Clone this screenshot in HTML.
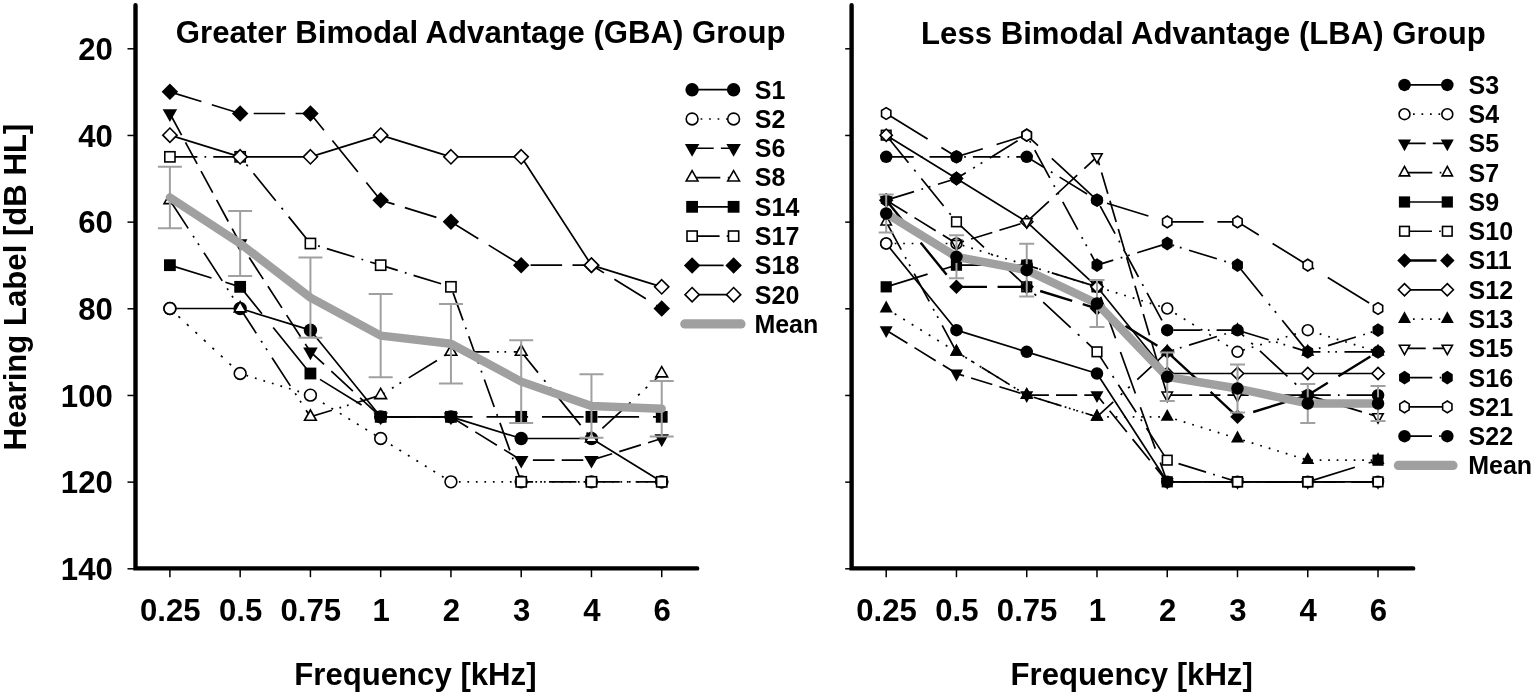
<!DOCTYPE html>
<html lang="en"><head><meta charset="utf-8"><title>Audiograms: GBA and LBA groups</title>
<style>html,body{margin:0;padding:0;background:#fff}svg{display:block}</style></head>
<body>
<svg width="1535" height="697" viewBox="0 0 1535 697" role="img" aria-label="Audiogram line charts for the GBA and LBA groups">
<style>.t{font:bold 31.15px "Liberation Sans", Arial, sans-serif;fill:#000}.l{font:bold 25px "Liberation Sans", Arial, sans-serif;fill:#000}</style>
<rect width="1535" height="697" fill="#fff"/>
<text transform="translate(25.8 450.6) rotate(-90)" class="t">Hearing Label [dB HL]</text>
<path d="M135.5 5.2 L135.5 568.4 L697.2 568.4" fill="none" stroke="#000" stroke-width="4.4" stroke-linecap="round" stroke-linejoin="miter"/>
<line x1="127.5" y1="48.8" x2="135.5" y2="48.8" stroke="#000" stroke-width="1.5"/>
<text x="112.8" y="59.9" text-anchor="end" class="t">20</text>
<line x1="127.5" y1="135.47" x2="135.5" y2="135.47" stroke="#000" stroke-width="1.5"/>
<text x="112.8" y="146.57" text-anchor="end" class="t">40</text>
<line x1="127.5" y1="222.13" x2="135.5" y2="222.13" stroke="#000" stroke-width="1.5"/>
<text x="112.8" y="233.23" text-anchor="end" class="t">60</text>
<line x1="127.5" y1="308.8" x2="135.5" y2="308.8" stroke="#000" stroke-width="1.5"/>
<text x="112.8" y="319.9" text-anchor="end" class="t">80</text>
<line x1="127.5" y1="395.47" x2="135.5" y2="395.47" stroke="#000" stroke-width="1.5"/>
<text x="112.8" y="406.57" text-anchor="end" class="t">100</text>
<line x1="127.5" y1="482.13" x2="135.5" y2="482.13" stroke="#000" stroke-width="1.5"/>
<text x="112.8" y="493.23" text-anchor="end" class="t">120</text>
<line x1="127.5" y1="568.8" x2="135.5" y2="568.8" stroke="#000" stroke-width="1.5"/>
<text x="112.8" y="579.9" text-anchor="end" class="t">140</text>
<line x1="169.9" y1="568.4" x2="169.9" y2="577.2" stroke="#000" stroke-width="1.5"/>
<text x="170.3" y="620.8" text-anchor="middle" class="t">0.25</text>
<line x1="240.16" y1="568.4" x2="240.16" y2="577.2" stroke="#000" stroke-width="1.5"/>
<text x="240.56" y="620.8" text-anchor="middle" class="t">0.5</text>
<line x1="310.42" y1="568.4" x2="310.42" y2="577.2" stroke="#000" stroke-width="1.5"/>
<text x="310.82" y="620.8" text-anchor="middle" class="t">0.75</text>
<line x1="380.68" y1="568.4" x2="380.68" y2="577.2" stroke="#000" stroke-width="1.5"/>
<text x="381.08" y="620.8" text-anchor="middle" class="t">1</text>
<line x1="450.94" y1="568.4" x2="450.94" y2="577.2" stroke="#000" stroke-width="1.5"/>
<text x="451.34" y="620.8" text-anchor="middle" class="t">2</text>
<line x1="521.2" y1="568.4" x2="521.2" y2="577.2" stroke="#000" stroke-width="1.5"/>
<text x="521.6" y="620.8" text-anchor="middle" class="t">3</text>
<line x1="591.46" y1="568.4" x2="591.46" y2="577.2" stroke="#000" stroke-width="1.5"/>
<text x="591.86" y="620.8" text-anchor="middle" class="t">4</text>
<line x1="661.72" y1="568.4" x2="661.72" y2="577.2" stroke="#000" stroke-width="1.5"/>
<text x="662.12" y="620.8" text-anchor="middle" class="t">6</text>
<text x="415.41" y="684.6" text-anchor="middle" class="t">Frequency [kHz]</text>
<text x="175.8" y="42.5" class="t">Greater Bimodal Advantage (GBA) Group</text>
<path d="M169.9 308.5 L240.16 308.5 L310.42 330.17 L380.68 416.83 L450.94 416.83 L521.2 438.5 L591.46 438.5 L661.72 481.83" fill="none" stroke="#000" stroke-width="1.7" stroke-linejoin="round"/>
<circle cx="169.9" cy="308.5" r="6.7" fill="#000" stroke="none"/>
<circle cx="240.16" cy="308.5" r="6.7" fill="#000" stroke="none"/>
<circle cx="310.42" cy="330.17" r="6.7" fill="#000" stroke="none"/>
<circle cx="380.68" cy="416.83" r="6.7" fill="#000" stroke="none"/>
<circle cx="450.94" cy="416.83" r="6.7" fill="#000" stroke="none"/>
<circle cx="521.2" cy="438.5" r="6.7" fill="#000" stroke="none"/>
<circle cx="591.46" cy="438.5" r="6.7" fill="#000" stroke="none"/>
<circle cx="661.72" cy="481.83" r="6.7" fill="#000" stroke="none"/>
<path d="M169.9 308.5 L171.6 310.07M178.4 316.36 L180.1 317.94M186.9 324.23 L188.6 325.8M195.4 332.09 L197.1 333.66M203.9 339.95 L205.6 341.53M212.4 347.82 L214.1 349.39M220.9 355.68 L222.6 357.25M229.4 363.55 L231.1 365.12M237.9 371.41 L239.6 372.98M246.4 375.42 L248.1 375.95M254.9 378.05 L256.6 378.57M263.4 380.67 L265.1 381.19M271.9 383.29 L273.6 383.81M280.4 385.91 L282.1 386.43M288.9 388.53 L290.6 389.05M297.4 391.15 L299.1 391.68M305.9 393.77 L307.6 394.3M314.4 397.62 L316.1 398.67M322.9 402.86 L324.6 403.91M331.4 408.11 L333.1 409.15M339.9 413.35 L341.6 414.4M348.4 418.59 L350.1 419.64M356.9 423.83 L358.6 424.88M365.4 429.08 L367.1 430.12M373.9 434.32 L375.6 435.37M382.4 439.56 L384.1 440.61M390.9 444.8 L392.6 445.85M399.4 450.05 L401.1 451.09M407.9 455.29 L409.6 456.34M416.4 460.53 L418.1 461.58M424.9 465.77 L426.6 466.82M433.4 471.02 L435.1 472.06M441.9 476.26 L443.6 477.31M450.4 481.5 L450.94 481.83 L452.1 481.83M458.9 481.83 L460.6 481.83M467.4 481.83 L469.1 481.83M475.9 481.83 L477.6 481.83M484.4 481.83 L486.1 481.83M492.9 481.83 L494.6 481.83M501.4 481.83 L503.1 481.83M509.9 481.83 L511.6 481.83M518.4 481.83 L520.1 481.83M526.9 481.83 L528.6 481.83M535.4 481.83 L537.1 481.83M543.9 481.83 L545.6 481.83M552.4 481.83 L554.1 481.83M560.9 481.83 L562.6 481.83M569.4 481.83 L571.1 481.83M577.9 481.83 L579.6 481.83M586.4 481.83 L588.1 481.83M594.9 481.83 L596.6 481.83M603.4 481.83 L605.1 481.83M611.9 481.83 L613.6 481.83M620.4 481.83 L622.1 481.83M628.9 481.83 L630.6 481.83M637.4 481.83 L639.1 481.83M645.9 481.83 L647.6 481.83M654.4 481.83 L656.1 481.83" fill="none" stroke="#000" stroke-width="1.7"/>
<circle cx="169.9" cy="308.5" r="5.9" fill="#fff" stroke="#000" stroke-width="1.6" stroke-linejoin="miter"/>
<circle cx="240.16" cy="373.5" r="5.9" fill="#fff" stroke="#000" stroke-width="1.6" stroke-linejoin="miter"/>
<circle cx="310.42" cy="395.17" r="5.9" fill="#fff" stroke="#000" stroke-width="1.6" stroke-linejoin="miter"/>
<circle cx="380.68" cy="438.5" r="5.9" fill="#fff" stroke="#000" stroke-width="1.6" stroke-linejoin="miter"/>
<circle cx="450.94" cy="481.83" r="5.9" fill="#fff" stroke="#000" stroke-width="1.6" stroke-linejoin="miter"/>
<circle cx="521.2" cy="481.83" r="5.9" fill="#fff" stroke="#000" stroke-width="1.6" stroke-linejoin="miter"/>
<circle cx="591.46" cy="481.83" r="5.9" fill="#fff" stroke="#000" stroke-width="1.6" stroke-linejoin="miter"/>
<circle cx="661.72" cy="481.83" r="5.9" fill="#fff" stroke="#000" stroke-width="1.6" stroke-linejoin="miter"/>
<path d="M169.9 113.5 L181.57 135.1M185.47 142.3 L197.14 163.9M201.03 171.1 L212.7 192.7M216.6 199.9 L228.27 221.5M232.16 228.7 L240.16 243.5 L244.57 250.3M249.24 257.5 L263.25 279.1M267.92 286.3 L281.93 307.9M286.6 315.1 L300.61 336.7M305.27 343.9 L310.42 351.83 L324.09 364.48M331.29 371.14 L352.89 391.12M360.09 397.78 L380.68 416.83 L381.69 416.83M388.89 416.83 L410.49 416.83M417.69 416.83 L439.29 416.83M446.49 416.83 L450.94 416.83 L468.09 427.41M475.29 431.85 L496.89 445.17M504.09 449.61 L521.2 460.17 L525.69 460.17M532.89 460.17 L554.49 460.17M561.69 460.17 L583.29 460.17M590.49 460.17 L591.46 460.17 L612.09 453.81M619.29 451.59 L640.89 444.92M648.09 442.7 L661.72 438.5" fill="none" stroke="#000" stroke-width="1.7"/>
<polygon points="169.9,121.95 177.15,109.27 162.65,109.27" fill="#000" stroke="none"/>
<polygon points="240.16,251.95 247.41,239.27 232.91,239.27" fill="#000" stroke="none"/>
<polygon points="310.42,360.28 317.67,347.61 303.17,347.61" fill="#000" stroke="none"/>
<polygon points="380.68,425.28 387.93,412.61 373.43,412.61" fill="#000" stroke="none"/>
<polygon points="450.94,425.28 458.19,412.61 443.69,412.61" fill="#000" stroke="none"/>
<polygon points="521.2,468.62 528.45,455.94 513.95,455.94" fill="#000" stroke="none"/>
<polygon points="591.46,468.62 598.71,455.94 584.21,455.94" fill="#000" stroke="none"/>
<polygon points="661.72,446.95 668.97,434.27 654.47,434.27" fill="#000" stroke="none"/>
<path d="M169.9 200.17 L188.19 228.37M193.05 235.87 L194.16 237.57M197.92 243.37 L199.02 245.07M203.95 252.67 L222.24 280.87M227.1 288.37 L228.21 290.07M231.97 295.87 L233.07 297.57M238 305.17 L240.16 308.5 L256.29 333.37M261.15 340.87 L262.25 342.57M266.02 348.37 L267.12 350.07M272.05 357.67 L290.34 385.87M295.2 393.37 L296.3 395.07M300.06 400.87 L301.17 402.57M306.1 410.17 L310.42 416.83 L331.95 410.19M339.45 407.88 L341.15 407.36M346.95 405.57 L348.65 405.04M356.25 402.7 L380.68 395.17 L384.45 392.84M391.95 388.21 L393.65 387.16M399.45 383.59 L401.15 382.54M408.75 377.85 L436.95 360.46M444.45 355.83 L446.15 354.79M451.95 351.83 L453.65 351.83M461.25 351.83 L489.45 351.83M496.95 351.83 L498.65 351.83M504.45 351.83 L506.15 351.83M513.75 351.83 L521.2 351.83 L538.02 372.59M544.1 380.09 L545.48 381.79M550.19 387.59 L551.56 389.29M557.72 396.89 L580.59 425.09M586.67 432.59 L588.04 434.29M593.05 437.03 L594.75 435.46M602.35 428.43 L630.55 402.34M638.05 395.4 L639.75 393.83M645.55 388.46 L647.25 386.89M654.85 379.86 L661.72 373.5" fill="none" stroke="#000" stroke-width="1.7"/>
<polygon points="169.9,193.32 175.78,203.59 164.02,203.59" fill="#fff" stroke="#000" stroke-width="1.6" stroke-linejoin="miter"/>
<polygon points="240.16,301.65 246.04,311.92 234.28,311.92" fill="#fff" stroke="#000" stroke-width="1.6" stroke-linejoin="miter"/>
<polygon points="310.42,409.98 316.3,420.26 304.54,420.26" fill="#fff" stroke="#000" stroke-width="1.6" stroke-linejoin="miter"/>
<polygon points="380.68,388.32 386.56,398.59 374.8,398.59" fill="#fff" stroke="#000" stroke-width="1.6" stroke-linejoin="miter"/>
<polygon points="450.94,344.98 456.82,355.26 445.06,355.26" fill="#fff" stroke="#000" stroke-width="1.6" stroke-linejoin="miter"/>
<polygon points="521.2,344.98 527.08,355.26 515.32,355.26" fill="#fff" stroke="#000" stroke-width="1.6" stroke-linejoin="miter"/>
<polygon points="591.46,431.65 597.34,441.92 585.58,441.92" fill="#fff" stroke="#000" stroke-width="1.6" stroke-linejoin="miter"/>
<polygon points="661.72,366.65 667.6,376.92 655.84,376.92" fill="#fff" stroke="#000" stroke-width="1.6" stroke-linejoin="miter"/>
<path d="M169.9 265.17 L211.5 278M225.4 282.28 L240.16 286.83 L261.92 313.67M273.19 327.57 L306.91 369.17M319.99 379.4 L361.59 405.06M375.49 413.63 L380.68 416.83 L417.09 416.83M430.99 416.83 L450.94 416.83 L472.59 416.83M486.49 416.83 L521.2 416.83 L528.09 416.83M541.99 416.83 L583.59 416.83M597.49 416.83 L639.09 416.83M652.99 416.83 L661.72 416.83" fill="none" stroke="#000" stroke-width="1.7"/>
<rect x="164" y="259.27" width="11.8" height="11.8" fill="#000" stroke="none"/>
<rect x="234.26" y="280.93" width="11.8" height="11.8" fill="#000" stroke="none"/>
<rect x="304.52" y="367.6" width="11.8" height="11.8" fill="#000" stroke="none"/>
<rect x="374.78" y="410.93" width="11.8" height="11.8" fill="#000" stroke="none"/>
<rect x="445.04" y="410.93" width="11.8" height="11.8" fill="#000" stroke="none"/>
<rect x="515.3" y="410.93" width="11.8" height="11.8" fill="#000" stroke="none"/>
<rect x="585.56" y="410.93" width="11.8" height="11.8" fill="#000" stroke="none"/>
<rect x="655.82" y="410.93" width="11.8" height="11.8" fill="#000" stroke="none"/>
<path d="M169.9 156.83 L197.4 156.83M204.5 156.83 L206.2 156.83M213.25 156.83 L240.16 156.83 L240.64 157.42M246.39 164.52 L247.77 166.22M253.49 173.27 L275.78 200.77M281.54 207.87 L282.92 209.57M288.63 216.62 L310.42 243.5 L311.04 243.69M318.14 245.88 L319.84 246.41M326.89 248.58 L354.39 257.06M361.49 259.25 L363.19 259.77M370.24 261.95 L380.68 265.17 L397.74 270.43M404.84 272.62 L406.54 273.14M413.59 275.32 L441.09 283.8M448.19 285.99 L449.89 286.51M453.1 292.84 L463.01 320.34M465.57 327.44 L466.18 329.14M468.72 336.19 L478.63 363.69M481.19 370.79 L481.8 372.49M484.34 379.54 L494.25 407.04M496.81 414.14 L497.42 415.84M499.96 422.89 L509.87 450.39M512.43 457.49 L513.04 459.19M515.58 466.24 L521.2 481.83 L533.1 481.83M540.2 481.83 L541.9 481.83M548.95 481.83 L576.45 481.83M583.55 481.83 L585.25 481.83M592.3 481.83 L619.8 481.83M626.9 481.83 L628.6 481.83M635.65 481.83 L661.72 481.83" fill="none" stroke="#000" stroke-width="1.7"/>
<rect x="164.8" y="151.73" width="10.2" height="10.2" fill="#fff" stroke="#000" stroke-width="1.6" stroke-linejoin="miter"/>
<rect x="235.06" y="151.73" width="10.2" height="10.2" fill="#fff" stroke="#000" stroke-width="1.6" stroke-linejoin="miter"/>
<rect x="305.32" y="238.4" width="10.2" height="10.2" fill="#fff" stroke="#000" stroke-width="1.6" stroke-linejoin="miter"/>
<rect x="375.58" y="260.07" width="10.2" height="10.2" fill="#fff" stroke="#000" stroke-width="1.6" stroke-linejoin="miter"/>
<rect x="445.84" y="281.73" width="10.2" height="10.2" fill="#fff" stroke="#000" stroke-width="1.6" stroke-linejoin="miter"/>
<rect x="516.1" y="476.73" width="10.2" height="10.2" fill="#fff" stroke="#000" stroke-width="1.6" stroke-linejoin="miter"/>
<rect x="586.36" y="476.73" width="10.2" height="10.2" fill="#fff" stroke="#000" stroke-width="1.6" stroke-linejoin="miter"/>
<rect x="656.62" y="476.73" width="10.2" height="10.2" fill="#fff" stroke="#000" stroke-width="1.6" stroke-linejoin="miter"/>
<path d="M169.9 91.83 L201.4 101.55M211.8 104.75 L240.16 113.5 L243.3 113.5M253.7 113.5 L285.2 113.5M295.6 113.5 L310.42 113.5 L323.94 130.18M332.37 140.58 L357.91 172.08M366.34 182.48 L380.68 200.17 L394.49 204.43M404.89 207.63 L436.39 217.35M446.79 220.55 L450.94 221.83 L478.29 238.7M488.69 245.12 L520.19 264.55M530.59 265.17 L562.09 265.17M572.49 265.17 L591.46 265.17 L603.99 272.9M614.39 279.31 L645.89 298.74M656.29 305.15 L661.72 308.5" fill="none" stroke="#000" stroke-width="1.7"/>
<polygon points="169.9,83.58 178.15,91.83 169.9,100.08 161.65,91.83" fill="#000" stroke="none"/>
<polygon points="240.16,105.25 248.41,113.5 240.16,121.75 231.91,113.5" fill="#000" stroke="none"/>
<polygon points="310.42,105.25 318.67,113.5 310.42,121.75 302.17,113.5" fill="#000" stroke="none"/>
<polygon points="380.68,191.92 388.93,200.17 380.68,208.42 372.43,200.17" fill="#000" stroke="none"/>
<polygon points="450.94,213.58 459.19,221.83 450.94,230.08 442.69,221.83" fill="#000" stroke="none"/>
<polygon points="521.2,256.92 529.45,265.17 521.2,273.42 512.95,265.17" fill="#000" stroke="none"/>
<polygon points="591.46,256.92 599.71,265.17 591.46,273.42 583.21,265.17" fill="#000" stroke="none"/>
<polygon points="661.72,300.25 669.97,308.5 661.72,316.75 653.47,308.5" fill="#000" stroke="none"/>
<path d="M169.9 135.17 L240.16 156.83 L310.42 156.83 L380.68 135.17 L450.94 156.83 L521.2 156.83 L591.46 265.17 L661.72 286.83" fill="none" stroke="#000" stroke-width="1.7" stroke-linejoin="round"/>
<polygon points="169.9,128.05 177.02,135.17 169.9,142.29 162.78,135.17" fill="#fff" stroke="#000" stroke-width="1.6" stroke-linejoin="miter"/>
<polygon points="240.16,149.71 247.28,156.83 240.16,163.95 233.04,156.83" fill="#fff" stroke="#000" stroke-width="1.6" stroke-linejoin="miter"/>
<polygon points="310.42,149.71 317.54,156.83 310.42,163.95 303.3,156.83" fill="#fff" stroke="#000" stroke-width="1.6" stroke-linejoin="miter"/>
<polygon points="380.68,128.05 387.8,135.17 380.68,142.29 373.56,135.17" fill="#fff" stroke="#000" stroke-width="1.6" stroke-linejoin="miter"/>
<polygon points="450.94,149.71 458.06,156.83 450.94,163.95 443.82,156.83" fill="#fff" stroke="#000" stroke-width="1.6" stroke-linejoin="miter"/>
<polygon points="521.2,149.71 528.32,156.83 521.2,163.95 514.08,156.83" fill="#fff" stroke="#000" stroke-width="1.6" stroke-linejoin="miter"/>
<polygon points="591.46,258.05 598.58,265.17 591.46,272.29 584.34,265.17" fill="#fff" stroke="#000" stroke-width="1.6" stroke-linejoin="miter"/>
<polygon points="661.72,279.71 668.84,286.83 661.72,293.95 654.6,286.83" fill="#fff" stroke="#000" stroke-width="1.6" stroke-linejoin="miter"/>
<path d="M169.9 197.46 L240.16 243.5 L310.42 297.67 L380.68 335.58 L450.94 343.71 L521.2 381.62 L591.46 406 L661.72 408.71" fill="none" stroke="#a0a0a0" stroke-width="8.4" stroke-linecap="round" stroke-linejoin="round"/>
<path d="M169.9 166.7 V228.22 M157.9 166.7 H181.9 M157.9 228.22 H181.9" fill="none" stroke="#a0a0a0" stroke-width="2"/>
<path d="M240.16 211 V276 M228.16 211 H252.16 M228.16 276 H252.16" fill="none" stroke="#a0a0a0" stroke-width="2"/>
<path d="M310.42 257.55 V337.79 M298.42 257.55 H322.42 M298.42 337.79 H322.42" fill="none" stroke="#a0a0a0" stroke-width="2"/>
<path d="M380.68 293.88 V377.29 M368.68 293.88 H392.68 M368.68 377.29 H392.68" fill="none" stroke="#a0a0a0" stroke-width="2"/>
<path d="M450.94 304.02 V383.39 M438.94 304.02 H462.94 M438.94 383.39 H462.94" fill="none" stroke="#a0a0a0" stroke-width="2"/>
<path d="M521.2 340.28 V422.97 M509.2 340.28 H533.2 M509.2 422.97 H533.2" fill="none" stroke="#a0a0a0" stroke-width="2"/>
<path d="M591.46 374.28 V437.72 M579.46 374.28 H603.46 M579.46 437.72 H603.46" fill="none" stroke="#a0a0a0" stroke-width="2"/>
<path d="M661.72 380.96 V436.46 M649.72 380.96 H673.72 M649.72 436.46 H673.72" fill="none" stroke="#a0a0a0" stroke-width="2"/>
<path d="M692.1 89.7 L733.6 89.7" fill="none" stroke="#000" stroke-width="1.7" stroke-linejoin="round"/>
<circle cx="692.1" cy="89.7" r="6.7" fill="#000" stroke="none"/>
<circle cx="733.6" cy="89.7" r="6.7" fill="#000" stroke="none"/>
<text x="754.8" y="98.6" class="l">S1</text>
<path d="M692.1 118.98 L693.8 118.98M700.6 118.98 L702.3 118.98M709.1 118.98 L710.8 118.98M717.6 118.98 L719.3 118.98M726.1 118.98 L727.8 118.98" fill="none" stroke="#000" stroke-width="1.7"/>
<circle cx="692.1" cy="118.98" r="5.9" fill="#fff" stroke="#000" stroke-width="1.6" stroke-linejoin="miter"/>
<circle cx="733.6" cy="118.98" r="5.9" fill="#fff" stroke="#000" stroke-width="1.6" stroke-linejoin="miter"/>
<text x="754.8" y="127.88" class="l">S2</text>
<path d="M692.1 148.26 L713.7 148.26M720.9 148.26 L733.6 148.26" fill="none" stroke="#000" stroke-width="1.7"/>
<polygon points="692.1,156.71 699.35,144.03 684.85,144.03" fill="#000" stroke="none"/>
<polygon points="733.6,156.71 740.85,144.03 726.35,144.03" fill="#000" stroke="none"/>
<text x="754.8" y="157.16" class="l">S6</text>
<path d="M692.1 177.54 L720.3 177.54M727.8 177.54 L729.5 177.54" fill="none" stroke="#000" stroke-width="1.7"/>
<polygon points="692.1,170.69 697.98,180.97 686.22,180.97" fill="#fff" stroke="#000" stroke-width="1.6" stroke-linejoin="miter"/>
<polygon points="733.6,170.69 739.48,180.97 727.72,180.97" fill="#fff" stroke="#000" stroke-width="1.6" stroke-linejoin="miter"/>
<text x="754.8" y="186.44" class="l">S8</text>
<path d="M692.1 206.82 L733.6 206.82" fill="none" stroke="#000" stroke-width="1.7"/>
<rect x="686.2" y="200.92" width="11.8" height="11.8" fill="#000" stroke="none"/>
<rect x="727.7" y="200.92" width="11.8" height="11.8" fill="#000" stroke="none"/>
<text x="754.8" y="215.72" class="l">S14</text>
<path d="M692.1 236.1 L719.6 236.1M726.7 236.1 L728.4 236.1" fill="none" stroke="#000" stroke-width="1.7"/>
<rect x="687" y="231" width="10.2" height="10.2" fill="#fff" stroke="#000" stroke-width="1.6" stroke-linejoin="miter"/>
<rect x="728.5" y="231" width="10.2" height="10.2" fill="#fff" stroke="#000" stroke-width="1.6" stroke-linejoin="miter"/>
<text x="754.8" y="245" class="l">S17</text>
<path d="M692.1 265.38 L723.6 265.38" fill="none" stroke="#000" stroke-width="1.7"/>
<polygon points="692.1,257.13 700.35,265.38 692.1,273.63 683.85,265.38" fill="#000" stroke="none"/>
<polygon points="733.6,257.13 741.85,265.38 733.6,273.63 725.35,265.38" fill="#000" stroke="none"/>
<text x="754.8" y="274.28" class="l">S18</text>
<path d="M692.1 294.66 L733.6 294.66" fill="none" stroke="#000" stroke-width="1.7" stroke-linejoin="round"/>
<polygon points="692.1,287.54 699.22,294.66 692.1,301.78 684.98,294.66" fill="#fff" stroke="#000" stroke-width="1.6" stroke-linejoin="miter"/>
<polygon points="733.6,287.54 740.72,294.66 733.6,301.78 726.48,294.66" fill="#fff" stroke="#000" stroke-width="1.6" stroke-linejoin="miter"/>
<text x="754.8" y="303.56" class="l">S20</text>
<line x1="684.8" y1="323.94" x2="741" y2="323.94" stroke="#a0a0a0" stroke-width="9.2" stroke-linecap="round"/>
<text x="754.4" y="332.84" class="l">Mean</text>
<path d="M851.6 5.2 L851.6 568.4 L1413.2 568.4" fill="none" stroke="#000" stroke-width="4.4" stroke-linecap="round" stroke-linejoin="miter"/>
<line x1="845.2" y1="48.8" x2="851.6" y2="48.8" stroke="#000" stroke-width="1.5"/>
<line x1="845.2" y1="135.47" x2="851.6" y2="135.47" stroke="#000" stroke-width="1.5"/>
<line x1="845.2" y1="222.13" x2="851.6" y2="222.13" stroke="#000" stroke-width="1.5"/>
<line x1="845.2" y1="308.8" x2="851.6" y2="308.8" stroke="#000" stroke-width="1.5"/>
<line x1="845.2" y1="395.47" x2="851.6" y2="395.47" stroke="#000" stroke-width="1.5"/>
<line x1="845.2" y1="482.13" x2="851.6" y2="482.13" stroke="#000" stroke-width="1.5"/>
<line x1="845.2" y1="568.8" x2="851.6" y2="568.8" stroke="#000" stroke-width="1.5"/>
<line x1="886.2" y1="568.4" x2="886.2" y2="577.2" stroke="#000" stroke-width="1.5"/>
<text x="886.6" y="620.8" text-anchor="middle" class="t">0.25</text>
<line x1="956.46" y1="568.4" x2="956.46" y2="577.2" stroke="#000" stroke-width="1.5"/>
<text x="956.86" y="620.8" text-anchor="middle" class="t">0.5</text>
<line x1="1026.72" y1="568.4" x2="1026.72" y2="577.2" stroke="#000" stroke-width="1.5"/>
<text x="1027.12" y="620.8" text-anchor="middle" class="t">0.75</text>
<line x1="1096.98" y1="568.4" x2="1096.98" y2="577.2" stroke="#000" stroke-width="1.5"/>
<text x="1097.38" y="620.8" text-anchor="middle" class="t">1</text>
<line x1="1167.24" y1="568.4" x2="1167.24" y2="577.2" stroke="#000" stroke-width="1.5"/>
<text x="1167.64" y="620.8" text-anchor="middle" class="t">2</text>
<line x1="1237.5" y1="568.4" x2="1237.5" y2="577.2" stroke="#000" stroke-width="1.5"/>
<text x="1237.9" y="620.8" text-anchor="middle" class="t">3</text>
<line x1="1307.76" y1="568.4" x2="1307.76" y2="577.2" stroke="#000" stroke-width="1.5"/>
<text x="1308.16" y="620.8" text-anchor="middle" class="t">4</text>
<line x1="1378.02" y1="568.4" x2="1378.02" y2="577.2" stroke="#000" stroke-width="1.5"/>
<text x="1378.42" y="620.8" text-anchor="middle" class="t">6</text>
<text x="1131.71" y="684.6" text-anchor="middle" class="t">Frequency [kHz]</text>
<text x="921.1" y="44.1" class="t">Less Bimodal Advantage (LBA) Group</text>
<path d="M886.2 243.5 L956.46 330.17 L1026.72 351.83 L1096.98 373.5 L1167.24 481.83 L1237.5 481.83 L1307.76 481.83 L1378.02 481.83" fill="none" stroke="#000" stroke-width="1.7" stroke-linejoin="round"/>
<circle cx="886.2" cy="243.5" r="6.25" fill="#000" stroke="none"/>
<circle cx="956.46" cy="330.17" r="6.25" fill="#000" stroke="none"/>
<circle cx="1026.72" cy="351.83" r="6.25" fill="#000" stroke="none"/>
<circle cx="1096.98" cy="373.5" r="6.25" fill="#000" stroke="none"/>
<circle cx="1167.24" cy="481.83" r="6.25" fill="#000" stroke="none"/>
<circle cx="1237.5" cy="481.83" r="6.25" fill="#000" stroke="none"/>
<circle cx="1307.76" cy="481.83" r="6.25" fill="#000" stroke="none"/>
<circle cx="1378.02" cy="481.83" r="6.25" fill="#000" stroke="none"/>
<path d="M886.2 243.5 L887.9 243.5M894.7 243.5 L896.4 243.5M903.2 243.5 L904.9 243.5M911.7 243.5 L913.4 243.5M920.2 243.5 L921.9 243.5M928.7 243.5 L930.4 243.5M937.2 243.5 L938.9 243.5M945.7 243.5 L947.4 243.5M954.2 243.5 L955.9 243.5M962.7 245.42 L964.4 245.95M971.2 248.05 L972.9 248.57M979.7 250.67 L981.4 251.19M988.2 253.29 L989.9 253.81M996.7 255.91 L998.4 256.43M1005.2 258.53 L1006.9 259.05M1013.7 261.15 L1015.4 261.68M1022.2 263.77 L1023.9 264.3M1030.7 266.39 L1032.4 266.92M1039.2 269.02 L1040.9 269.54M1047.7 271.64 L1049.4 272.16M1056.2 274.26 L1057.9 274.78M1064.7 276.88 L1066.4 277.4M1073.2 279.5 L1074.9 280.02M1081.7 282.12 L1083.4 282.65M1090.2 284.74 L1091.9 285.27M1098.7 287.36 L1100.4 287.89M1107.2 289.98 L1108.9 290.51M1115.7 292.61 L1117.4 293.13M1124.2 295.23 L1125.9 295.75M1132.7 297.85 L1134.4 298.37M1141.2 300.47 L1142.9 300.99M1149.7 303.09 L1151.4 303.62M1158.2 305.71 L1159.9 306.24M1166.7 308.33 L1167.24 308.5 L1168.4 309.22M1175.2 313.41 L1176.9 314.46M1183.7 318.65 L1185.4 319.7M1192.2 323.89 L1193.9 324.94M1200.7 329.14 L1202.4 330.18M1209.2 334.38 L1210.9 335.43M1217.7 339.62 L1219.4 340.67M1226.2 344.86 L1227.9 345.91M1234.7 350.11 L1236.4 351.15M1243.2 350.08 L1244.9 349.55M1251.7 347.45 L1253.4 346.93M1260.2 344.83 L1261.9 344.31M1268.7 342.21 L1270.4 341.69M1277.2 339.59 L1278.9 339.07M1285.7 336.97 L1287.4 336.45M1294.2 334.35 L1295.9 333.82M1302.7 331.73 L1304.4 331.2M1311.2 331.23 L1312.9 331.75M1319.7 333.85 L1321.4 334.37M1328.2 336.47 L1329.9 336.99M1336.7 339.09 L1338.4 339.62M1345.2 341.71 L1346.9 342.24M1353.7 344.33 L1355.4 344.86M1362.2 346.95 L1363.9 347.48M1370.7 349.58 L1372.4 350.1" fill="none" stroke="#000" stroke-width="1.7"/>
<circle cx="886.2" cy="243.5" r="5.45" fill="#fff" stroke="#000" stroke-width="1.6" stroke-linejoin="miter"/>
<circle cx="956.46" cy="243.5" r="5.45" fill="#fff" stroke="#000" stroke-width="1.6" stroke-linejoin="miter"/>
<circle cx="1026.72" cy="265.17" r="5.45" fill="#fff" stroke="#000" stroke-width="1.6" stroke-linejoin="miter"/>
<circle cx="1096.98" cy="286.83" r="5.45" fill="#fff" stroke="#000" stroke-width="1.6" stroke-linejoin="miter"/>
<circle cx="1167.24" cy="308.5" r="5.45" fill="#fff" stroke="#000" stroke-width="1.6" stroke-linejoin="miter"/>
<circle cx="1237.5" cy="351.83" r="5.45" fill="#fff" stroke="#000" stroke-width="1.6" stroke-linejoin="miter"/>
<circle cx="1307.76" cy="330.17" r="5.45" fill="#fff" stroke="#000" stroke-width="1.6" stroke-linejoin="miter"/>
<circle cx="1378.02" cy="351.83" r="5.45" fill="#fff" stroke="#000" stroke-width="1.6" stroke-linejoin="miter"/>
<path d="M886.2 330.17 L907.4 343.24M914.5 347.62 L935.7 360.7M942.8 365.07 L956.46 373.5 L964 375.82M971.1 378.01 L992.3 384.55M999.4 386.74 L1020.6 393.28M1027.7 395.17 L1048.9 395.17M1056 395.17 L1077.2 395.17M1084.3 395.17 L1096.98 395.17 L1103.89 403.69M1109.64 410.79 L1126.83 431.99M1132.59 439.09 L1149.77 460.29M1155.53 467.39 L1167.24 481.83 L1173.99 481.83M1181.09 481.83 L1202.29 481.83M1209.39 481.83 L1230.59 481.83M1237.69 481.83 L1258.89 481.83M1265.99 481.83 L1287.19 481.83M1294.29 481.83 L1307.76 481.83 L1315.49 481.83M1322.59 481.83 L1343.79 481.83M1350.89 481.83 L1372.09 481.83" fill="none" stroke="#000" stroke-width="1.7"/>
<polygon points="886.2,338.07 892.7,326.22 879.7,326.22" fill="#000" stroke="none"/>
<polygon points="956.46,381.4 962.96,369.55 949.96,369.55" fill="#000" stroke="none"/>
<polygon points="1026.72,403.07 1033.22,391.22 1020.22,391.22" fill="#000" stroke="none"/>
<polygon points="1096.98,403.07 1103.48,391.22 1090.48,391.22" fill="#000" stroke="none"/>
<polygon points="1167.24,489.73 1173.74,477.88 1160.74,477.88" fill="#000" stroke="none"/>
<polygon points="1237.5,489.73 1244,477.88 1231,477.88" fill="#000" stroke="none"/>
<polygon points="1307.76,489.73 1314.26,477.88 1301.26,477.88" fill="#000" stroke="none"/>
<polygon points="1378.02,489.73 1384.52,477.88 1371.52,477.88" fill="#000" stroke="none"/>
<path d="M886.2 221.83 L901.22 249.63M905.22 257.03 L906.14 258.73M909.22 264.43 L910.14 266.13M914.2 273.63 L929.22 301.43M933.22 308.83 L934.14 310.53M937.22 316.23 L938.14 317.93M942.19 325.43 L956.46 351.83 L957.86 352.7M965.26 357.26 L966.96 358.31M972.66 361.82 L974.36 362.87M981.86 367.5 L1009.66 384.64M1017.06 389.21 L1018.76 390.26M1024.46 393.77 L1026.16 394.82M1033.66 397.31 L1061.46 405.88M1068.86 408.16 L1070.56 408.69M1076.26 410.44 L1077.96 410.97M1085.46 413.28 L1096.98 416.83 L1113.26 401.77M1120.66 394.93 L1122.36 393.35M1128.06 388.08 L1129.76 386.51M1137.26 379.57 L1165.06 353.85M1172.46 350.22 L1174.16 349.7M1179.86 347.94 L1181.56 347.42M1189.06 345.1 L1216.86 336.53M1224.26 334.25 L1225.96 333.73M1231.66 331.97 L1233.36 331.44M1240.86 331.2 L1268.66 339.78M1276.06 342.06 L1277.76 342.58M1283.46 344.34 L1285.16 344.86M1292.66 347.18 L1307.76 351.83 L1320.46 351.83M1327.86 351.83 L1329.56 351.83M1335.26 351.83 L1336.96 351.83M1344.46 351.83 L1372.26 351.83" fill="none" stroke="#000" stroke-width="1.7"/>
<polygon points="886.2,215.53 891.38,224.98 881.02,224.98" fill="#fff" stroke="#000" stroke-width="1.6" stroke-linejoin="miter"/>
<polygon points="956.46,345.53 961.64,354.98 951.28,354.98" fill="#fff" stroke="#000" stroke-width="1.6" stroke-linejoin="miter"/>
<polygon points="1026.72,388.87 1031.9,398.32 1021.54,398.32" fill="#fff" stroke="#000" stroke-width="1.6" stroke-linejoin="miter"/>
<polygon points="1096.98,410.53 1102.16,419.98 1091.8,419.98" fill="#fff" stroke="#000" stroke-width="1.6" stroke-linejoin="miter"/>
<polygon points="1167.24,345.53 1172.42,354.98 1162.06,354.98" fill="#fff" stroke="#000" stroke-width="1.6" stroke-linejoin="miter"/>
<polygon points="1237.5,323.87 1242.68,333.32 1232.32,333.32" fill="#fff" stroke="#000" stroke-width="1.6" stroke-linejoin="miter"/>
<polygon points="1307.76,345.53 1312.94,354.98 1302.58,354.98" fill="#fff" stroke="#000" stroke-width="1.6" stroke-linejoin="miter"/>
<polygon points="1378.02,345.53 1383.2,354.98 1372.84,354.98" fill="#fff" stroke="#000" stroke-width="1.6" stroke-linejoin="miter"/>
<path d="M886.2 286.83 L927.6 274.07M941.4 269.81 L956.46 265.17 L982.8 265.17M996.6 265.17 L1026.72 265.17 L1038 268.65M1051.8 272.9 L1093.2 285.67M1100.59 296.85 L1115.51 338.25M1120.48 352.05 L1135.4 393.45M1140.37 407.25 L1155.29 448.65M1160.26 462.45 L1167.24 481.83 L1189.26 481.83M1203.06 481.83 L1237.5 481.83 L1244.46 481.83M1258.26 481.83 L1299.66 481.83M1313.46 480.08 L1354.86 467.31M1368.66 463.05 L1378.02 460.17" fill="none" stroke="#000" stroke-width="1.7"/>
<rect x="880.6" y="281.23" width="11.2" height="11.2" fill="#000" stroke="none"/>
<rect x="950.86" y="259.57" width="11.2" height="11.2" fill="#000" stroke="none"/>
<rect x="1021.12" y="259.57" width="11.2" height="11.2" fill="#000" stroke="none"/>
<rect x="1091.38" y="281.23" width="11.2" height="11.2" fill="#000" stroke="none"/>
<rect x="1161.64" y="476.23" width="11.2" height="11.2" fill="#000" stroke="none"/>
<rect x="1231.9" y="476.23" width="11.2" height="11.2" fill="#000" stroke="none"/>
<rect x="1302.16" y="476.23" width="11.2" height="11.2" fill="#000" stroke="none"/>
<rect x="1372.42" y="454.57" width="11.2" height="11.2" fill="#000" stroke="none"/>
<path d="M886.2 135.17 L908.49 162.67M914.25 169.77 L915.63 171.47M921.34 178.52 L943.64 206.02M949.39 213.12 L950.77 214.82M956.49 221.86 L983.99 247.31M991.09 253.87 L992.79 255.45M999.84 261.97 L1026.72 286.83 L1027.34 287.41M1034.44 293.98 L1036.14 295.55M1043.19 302.07 L1070.69 327.51M1077.79 334.08 L1079.49 335.66M1086.54 342.18 L1096.98 351.83 L1108.05 368.9M1112.65 376 L1113.75 377.7M1118.33 384.75 L1136.16 412.25M1140.77 419.35 L1141.87 421.05M1146.44 428.1 L1164.28 455.6M1169.77 460.95 L1171.47 461.47M1178.52 463.64 L1206.02 472.13M1213.12 474.31 L1214.82 474.84M1221.87 477.01 L1237.5 481.83 L1249.37 481.83M1256.47 481.83 L1258.17 481.83M1265.22 481.83 L1292.72 481.83M1299.82 481.83 L1301.52 481.83M1308.57 481.83 L1336.07 481.83M1343.17 481.83 L1344.87 481.83M1351.92 481.83 L1378.02 481.83" fill="none" stroke="#000" stroke-width="1.7"/>
<rect x="881.4" y="130.37" width="9.6" height="9.6" fill="#fff" stroke="#000" stroke-width="1.6" stroke-linejoin="miter"/>
<rect x="951.66" y="217.03" width="9.6" height="9.6" fill="#fff" stroke="#000" stroke-width="1.6" stroke-linejoin="miter"/>
<rect x="1021.92" y="282.03" width="9.6" height="9.6" fill="#fff" stroke="#000" stroke-width="1.6" stroke-linejoin="miter"/>
<rect x="1092.18" y="347.03" width="9.6" height="9.6" fill="#fff" stroke="#000" stroke-width="1.6" stroke-linejoin="miter"/>
<rect x="1162.44" y="455.37" width="9.6" height="9.6" fill="#fff" stroke="#000" stroke-width="1.6" stroke-linejoin="miter"/>
<rect x="1232.7" y="477.03" width="9.6" height="9.6" fill="#fff" stroke="#000" stroke-width="1.6" stroke-linejoin="miter"/>
<rect x="1302.96" y="477.03" width="9.6" height="9.6" fill="#fff" stroke="#000" stroke-width="1.6" stroke-linejoin="miter"/>
<rect x="1373.22" y="477.03" width="9.6" height="9.6" fill="#fff" stroke="#000" stroke-width="1.6" stroke-linejoin="miter"/>
<path d="M886.2 200.17 L912.14 232.17M920.74 242.77 L946.68 274.77M955.27 285.37 L956.46 286.83 L986.99 286.83M997.59 286.83 L1026.72 286.83 L1029.59 287.72M1040.19 290.99 L1072.19 300.86M1082.79 304.12 L1096.98 308.5 L1114.79 319.49M1125.39 326.02 L1157.39 345.76M1167.99 352.53 L1199.99 382.13M1210.59 391.94 L1237.5 416.83 L1242.59 415.26M1253.19 411.99 L1285.19 402.13M1295.79 398.86 L1307.76 395.17 L1327.79 382.81M1338.39 376.27 L1370.39 356.54" fill="none" stroke="#000" stroke-width="2.4"/>
<polygon points="886.2,192.92 893.45,200.17 886.2,207.42 878.95,200.17" fill="#000" stroke="none"/>
<polygon points="956.46,279.58 963.71,286.83 956.46,294.08 949.21,286.83" fill="#000" stroke="none"/>
<polygon points="1026.72,279.58 1033.97,286.83 1026.72,294.08 1019.47,286.83" fill="#000" stroke="none"/>
<polygon points="1096.98,301.25 1104.23,308.5 1096.98,315.75 1089.73,308.5" fill="#000" stroke="none"/>
<polygon points="1167.24,344.58 1174.49,351.83 1167.24,359.08 1159.99,351.83" fill="#000" stroke="none"/>
<polygon points="1237.5,409.58 1244.75,416.83 1237.5,424.08 1230.25,416.83" fill="#000" stroke="none"/>
<polygon points="1307.76,387.92 1315.01,395.17 1307.76,402.42 1300.51,395.17" fill="#000" stroke="none"/>
<polygon points="1378.02,344.58 1385.27,351.83 1378.02,359.08 1370.77,351.83" fill="#000" stroke="none"/>
<path d="M886.2 135.17 L956.46 178.5 L1026.72 221.83 L1096.98 286.83 L1167.24 373.5 L1237.5 373.5 L1307.76 373.5 L1378.02 373.5" fill="none" stroke="#000" stroke-width="1.7" stroke-linejoin="round"/>
<polygon points="886.2,129.05 892.32,135.17 886.2,141.29 880.08,135.17" fill="#fff" stroke="#000" stroke-width="1.6" stroke-linejoin="miter"/>
<polygon points="956.46,172.38 962.58,178.5 956.46,184.62 950.34,178.5" fill="#fff" stroke="#000" stroke-width="1.6" stroke-linejoin="miter"/>
<polygon points="1026.72,215.71 1032.84,221.83 1026.72,227.95 1020.6,221.83" fill="#fff" stroke="#000" stroke-width="1.6" stroke-linejoin="miter"/>
<polygon points="1096.98,280.71 1103.1,286.83 1096.98,292.95 1090.86,286.83" fill="#fff" stroke="#000" stroke-width="1.6" stroke-linejoin="miter"/>
<polygon points="1167.24,367.38 1173.36,373.5 1167.24,379.62 1161.12,373.5" fill="#fff" stroke="#000" stroke-width="1.6" stroke-linejoin="miter"/>
<polygon points="1237.5,367.38 1243.62,373.5 1237.5,379.62 1231.38,373.5" fill="#fff" stroke="#000" stroke-width="1.6" stroke-linejoin="miter"/>
<polygon points="1307.76,367.38 1313.88,373.5 1307.76,379.62 1301.64,373.5" fill="#fff" stroke="#000" stroke-width="1.6" stroke-linejoin="miter"/>
<polygon points="1378.02,367.38 1384.14,373.5 1378.02,379.62 1371.9,373.5" fill="#fff" stroke="#000" stroke-width="1.6" stroke-linejoin="miter"/>
<path d="M886.2 308.5 L887.9 309.55M894.7 313.74 L896.4 314.79M903.2 318.98 L904.9 320.03M911.7 324.23 L913.4 325.28M920.2 329.47 L921.9 330.52M928.7 334.71 L930.4 335.76M937.2 339.95 L938.9 341M945.7 345.2 L947.4 346.25M954.2 350.44 L955.9 351.49M962.7 355.68 L964.4 356.73M971.2 360.92 L972.9 361.97M979.7 366.17 L981.4 367.22M988.2 371.41 L989.9 372.46M996.7 376.65 L998.4 377.7M1005.2 381.89 L1006.9 382.94M1013.7 387.14 L1015.4 388.18M1022.2 392.38 L1023.9 393.43M1030.7 396.39 L1032.4 396.92M1039.2 399.01 L1040.9 399.54M1047.7 401.64 L1049.4 402.16M1056.2 404.26 L1057.9 404.78M1064.7 406.88 L1066.4 407.4M1073.2 409.5 L1074.9 410.02M1081.7 412.12 L1083.4 412.65M1090.2 414.74 L1091.9 415.27M1098.7 416.83 L1100.4 416.83M1107.2 416.83 L1108.9 416.83M1115.7 416.83 L1117.4 416.83M1124.2 416.83 L1125.9 416.83M1132.7 416.83 L1134.4 416.83M1141.2 416.83 L1142.9 416.83M1149.7 416.83 L1151.4 416.83M1158.2 416.83 L1159.9 416.83M1166.7 416.83 L1167.24 416.83 L1168.4 417.19M1175.2 419.29 L1176.9 419.81M1183.7 421.91 L1185.4 422.43M1192.2 424.53 L1193.9 425.05M1200.7 427.15 L1202.4 427.68M1209.2 429.77 L1210.9 430.3M1217.7 432.39 L1219.4 432.92M1226.2 435.02 L1227.9 435.54M1234.7 437.64 L1236.4 438.16M1243.2 440.26 L1244.9 440.78M1251.7 442.88 L1253.4 443.4M1260.2 445.5 L1261.9 446.02M1268.7 448.12 L1270.4 448.65M1277.2 450.74 L1278.9 451.27M1285.7 453.36 L1287.4 453.89M1294.2 455.98 L1295.9 456.51M1302.7 458.61 L1304.4 459.13M1311.2 460.17 L1312.9 460.17M1319.7 460.17 L1321.4 460.17M1328.2 460.17 L1329.9 460.17M1336.7 460.17 L1338.4 460.17M1345.2 460.17 L1346.9 460.17M1353.7 460.17 L1355.4 460.17M1362.2 460.17 L1363.9 460.17M1370.7 460.17 L1372.4 460.17" fill="none" stroke="#000" stroke-width="1.7"/>
<polygon points="886.2,300.6 892.7,312.45 879.7,312.45" fill="#000" stroke="none"/>
<polygon points="956.46,343.93 962.96,355.78 949.96,355.78" fill="#000" stroke="none"/>
<polygon points="1026.72,387.27 1033.22,399.12 1020.22,399.12" fill="#000" stroke="none"/>
<polygon points="1096.98,408.93 1103.48,420.78 1090.48,420.78" fill="#000" stroke="none"/>
<polygon points="1167.24,408.93 1173.74,420.78 1160.74,420.78" fill="#000" stroke="none"/>
<polygon points="1237.5,430.6 1244,442.45 1231,442.45" fill="#000" stroke="none"/>
<polygon points="1307.76,452.27 1314.26,464.12 1301.26,464.12" fill="#000" stroke="none"/>
<polygon points="1378.02,452.27 1384.52,464.12 1371.52,464.12" fill="#000" stroke="none"/>
<path d="M886.2 200.17 L907.4 213.24M914.5 217.62 L935.7 230.7M942.8 235.07 L956.46 243.5 L964 241.17M971.1 238.99 L992.3 232.45M999.4 230.26 L1020.6 223.72M1027.7 220.93 L1048.9 201.31M1056 194.75 L1077.2 175.13M1084.3 168.56 L1096.98 156.83 L1099.49 165.35M1101.58 172.45 L1107.83 193.65M1109.93 200.75 L1116.18 221.95M1118.27 229.05 L1124.52 250.25M1126.61 257.35 L1132.86 278.55M1134.96 285.65 L1141.21 306.85M1143.3 313.95 L1149.55 335.15M1151.64 342.25 L1157.89 363.45M1159.98 370.55 L1166.23 391.75M1170.93 395.17 L1192.13 395.17M1199.23 395.17 L1220.43 395.17M1227.53 395.17 L1237.5 395.17 L1248.73 395.17M1255.83 395.17 L1277.03 395.17M1284.13 395.17 L1305.33 395.17M1312.43 396.61 L1333.63 403.14M1340.73 405.33 L1361.93 411.87M1369.03 414.06 L1378.02 416.83" fill="none" stroke="#000" stroke-width="1.7"/>
<polygon points="886.2,206.47 891.38,197.02 881.02,197.02" fill="#fff" stroke="#000" stroke-width="1.6" stroke-linejoin="miter"/>
<polygon points="956.46,249.8 961.64,240.35 951.28,240.35" fill="#fff" stroke="#000" stroke-width="1.6" stroke-linejoin="miter"/>
<polygon points="1026.72,228.13 1031.9,218.68 1021.54,218.68" fill="#fff" stroke="#000" stroke-width="1.6" stroke-linejoin="miter"/>
<polygon points="1096.98,163.13 1102.16,153.68 1091.8,153.68" fill="#fff" stroke="#000" stroke-width="1.6" stroke-linejoin="miter"/>
<polygon points="1167.24,401.47 1172.42,392.02 1162.06,392.02" fill="#fff" stroke="#000" stroke-width="1.6" stroke-linejoin="miter"/>
<polygon points="1237.5,401.47 1242.68,392.02 1232.32,392.02" fill="#fff" stroke="#000" stroke-width="1.6" stroke-linejoin="miter"/>
<polygon points="1307.76,401.47 1312.94,392.02 1302.58,392.02" fill="#fff" stroke="#000" stroke-width="1.6" stroke-linejoin="miter"/>
<polygon points="1378.02,423.13 1383.2,413.68 1372.84,413.68" fill="#fff" stroke="#000" stroke-width="1.6" stroke-linejoin="miter"/>
<path d="M886.2 200.17 L914 191.59M921.4 189.31 L923.1 188.79M928.8 187.03 L930.5 186.51M938 184.19 L956.46 178.5 L965.8 172.74M973.2 168.18 L974.9 167.13M980.6 163.61 L982.3 162.56M989.8 157.94 L1017.6 140.79M1025 136.23 L1026.7 135.18M1029.79 140.85 L1030.71 142.55M1034.76 150.05 L1049.79 177.85M1053.79 185.25 L1054.71 186.95M1057.79 192.65 L1058.7 194.35M1062.76 201.85 L1077.78 229.65M1081.78 237.05 L1082.7 238.75M1085.78 244.45 L1086.7 246.15M1090.75 253.65 L1096.98 265.17 L1113.26 260.15M1120.66 257.86 L1122.36 257.34M1128.06 255.58 L1129.76 255.06M1137.26 252.74 L1165.06 244.17M1172.46 245.11 L1174.16 245.63M1179.86 247.39 L1181.56 247.92M1189.06 250.23 L1216.86 258.8M1224.26 261.08 L1225.96 261.61M1231.66 263.37 L1233.36 263.89M1240.22 268.53 L1262.76 296.33M1268.76 303.73 L1270.14 305.43M1274.76 311.13 L1276.14 312.83M1282.22 320.33 L1304.76 348.13M1311.45 350.69 L1313.15 350.17M1318.85 348.41 L1320.55 347.89M1328.05 345.58 L1355.85 337M1363.25 334.72 L1364.95 334.2M1370.65 332.44 L1372.35 331.91" fill="none" stroke="#000" stroke-width="1.7"/>
<polygon points="886.2,193.27 891.65,196.72 891.65,203.62 886.2,207.07 880.75,203.62 880.75,196.72" fill="#000" stroke="none"/>
<polygon points="956.46,171.6 961.91,175.05 961.91,181.95 956.46,185.4 951.01,181.95 951.01,175.05" fill="#000" stroke="none"/>
<polygon points="1026.72,128.27 1032.17,131.72 1032.17,138.62 1026.72,142.07 1021.27,138.62 1021.27,131.72" fill="#000" stroke="none"/>
<polygon points="1096.98,258.27 1102.43,261.72 1102.43,268.62 1096.98,272.07 1091.53,268.62 1091.53,261.72" fill="#000" stroke="none"/>
<polygon points="1167.24,236.6 1172.69,240.05 1172.69,246.95 1167.24,250.4 1161.79,246.95 1161.79,240.05" fill="#000" stroke="none"/>
<polygon points="1237.5,258.27 1242.95,261.72 1242.95,268.62 1237.5,272.07 1232.05,268.62 1232.05,261.72" fill="#000" stroke="none"/>
<polygon points="1307.76,344.93 1313.21,348.38 1313.21,355.28 1307.76,358.73 1302.31,355.28 1302.31,348.38" fill="#000" stroke="none"/>
<polygon points="1378.02,323.27 1383.47,326.72 1383.47,333.62 1378.02,337.07 1372.57,333.62 1372.57,326.72" fill="#000" stroke="none"/>
<path d="M886.2 113.5 L927.6 139.03M941.4 147.54 L956.46 156.83 L982.8 148.71M996.6 144.45 L1026.72 135.17 L1038 145.6M1051.8 158.37 L1093.2 196.67M1107 203.26 L1148.4 216.02M1162.2 220.28 L1167.24 221.83 L1203.6 221.83M1217.4 221.83 L1237.5 221.83 L1258.8 234.97M1272.6 243.48 L1307.76 265.17 L1314 269.02M1327.8 277.53 L1369.2 303.06" fill="none" stroke="#000" stroke-width="1.7"/>
<polygon points="886.2,107.61 890.85,110.56 890.85,116.44 886.2,119.39 881.55,116.44 881.55,110.56" fill="#fff" stroke="#000" stroke-width="1.6" stroke-linejoin="miter"/>
<polygon points="956.46,150.95 961.11,153.89 961.11,159.78 956.46,162.72 951.81,159.78 951.81,153.89" fill="#fff" stroke="#000" stroke-width="1.6" stroke-linejoin="miter"/>
<polygon points="1026.72,129.28 1031.37,132.22 1031.37,138.11 1026.72,141.05 1022.07,138.11 1022.07,132.22" fill="#fff" stroke="#000" stroke-width="1.6" stroke-linejoin="miter"/>
<polygon points="1096.98,194.28 1101.63,197.22 1101.63,203.11 1096.98,206.05 1092.33,203.11 1092.33,197.22" fill="#fff" stroke="#000" stroke-width="1.6" stroke-linejoin="miter"/>
<polygon points="1167.24,215.95 1171.89,218.89 1171.89,224.78 1167.24,227.72 1162.59,224.78 1162.59,218.89" fill="#fff" stroke="#000" stroke-width="1.6" stroke-linejoin="miter"/>
<polygon points="1237.5,215.95 1242.15,218.89 1242.15,224.78 1237.5,227.72 1232.85,224.78 1232.85,218.89" fill="#fff" stroke="#000" stroke-width="1.6" stroke-linejoin="miter"/>
<polygon points="1307.76,259.28 1312.41,262.22 1312.41,268.11 1307.76,271.05 1303.11,268.11 1303.11,262.22" fill="#fff" stroke="#000" stroke-width="1.6" stroke-linejoin="miter"/>
<polygon points="1378.02,302.61 1382.67,305.56 1382.67,311.44 1378.02,314.39 1373.37,311.44 1373.37,305.56" fill="#fff" stroke="#000" stroke-width="1.6" stroke-linejoin="miter"/>
<path d="M886.2 156.83 L913.7 156.83M920.8 156.83 L922.5 156.83M929.55 156.83 L956.46 156.83 L957.05 156.83M964.15 156.83 L965.85 156.83M972.9 156.83 L1000.4 156.83M1007.5 156.83 L1009.2 156.83M1016.25 156.83 L1026.72 156.83 L1043.75 167.34M1050.85 171.72 L1052.55 172.76M1059.6 177.11 L1087.1 194.07M1094.2 198.45 L1095.9 199.5M1100.21 206.14 L1115.07 233.64M1118.91 240.74 L1119.83 242.44M1123.64 249.49 L1138.5 276.99M1142.34 284.09 L1143.25 285.79M1147.06 292.84 L1161.93 320.34M1165.76 327.44 L1166.68 329.14M1173.26 330.17 L1200.76 330.17M1207.86 330.17 L1209.56 330.17M1216.61 330.17 L1237.5 330.17 L1244.11 336.28M1251.21 342.85 L1252.91 344.42M1259.96 350.95 L1287.46 376.39M1294.56 382.95 L1296.26 384.53M1303.31 391.05 L1307.76 395.17 L1330.81 395.17M1337.91 395.17 L1339.61 395.17M1346.66 395.17 L1374.16 395.17" fill="none" stroke="#000" stroke-width="1.7"/>
<circle cx="886.2" cy="156.83" r="6.25" fill="#000" stroke="none"/>
<circle cx="956.46" cy="156.83" r="6.25" fill="#000" stroke="none"/>
<circle cx="1026.72" cy="156.83" r="6.25" fill="#000" stroke="none"/>
<circle cx="1096.98" cy="200.17" r="6.25" fill="#000" stroke="none"/>
<circle cx="1167.24" cy="330.17" r="6.25" fill="#000" stroke="none"/>
<circle cx="1237.5" cy="330.17" r="6.25" fill="#000" stroke="none"/>
<circle cx="1307.76" cy="395.17" r="6.25" fill="#000" stroke="none"/>
<circle cx="1378.02" cy="395.17" r="6.25" fill="#000" stroke="none"/>
<path d="M886.2 213.5 L956.46 256.83 L1026.72 270.17 L1096.98 303.5 L1167.24 376.83 L1237.5 388.5 L1307.76 403.5 L1378.02 403.5" fill="none" stroke="#a0a0a0" stroke-width="8.4" stroke-linecap="round" stroke-linejoin="round"/>
<path d="M886.2 194.57 V232.43 M878.7 194.57 H893.7 M878.7 232.43 H893.7" fill="none" stroke="#a0a0a0" stroke-width="2"/>
<path d="M956.46 235.37 V278.3 M948.96 235.37 H963.96 M948.96 278.3 H963.96" fill="none" stroke="#a0a0a0" stroke-width="2"/>
<path d="M1026.72 243.84 V296.49 M1019.22 243.84 H1034.22 M1019.22 296.49 H1034.22" fill="none" stroke="#a0a0a0" stroke-width="2"/>
<path d="M1096.98 279.95 V327.05 M1089.48 279.95 H1104.48 M1089.48 327.05 H1104.48" fill="none" stroke="#a0a0a0" stroke-width="2"/>
<path d="M1167.24 352.57 V401.1 M1159.74 352.57 H1174.74 M1159.74 401.1 H1174.74" fill="none" stroke="#a0a0a0" stroke-width="2"/>
<path d="M1237.5 364.54 V412.46 M1230 364.54 H1245 M1230 412.46 H1245" fill="none" stroke="#a0a0a0" stroke-width="2"/>
<path d="M1307.76 384.1 V422.9 M1300.26 384.1 H1315.26 M1300.26 422.9 H1315.26" fill="none" stroke="#a0a0a0" stroke-width="2"/>
<path d="M1378.02 385.89 V421.11 M1370.52 385.89 H1385.52 M1370.52 421.11 H1385.52" fill="none" stroke="#a0a0a0" stroke-width="2"/>
<circle cx="886.2" cy="213.5" r="6.25" fill="#000" stroke="none"/>
<circle cx="956.46" cy="256.83" r="6.25" fill="#000" stroke="none"/>
<circle cx="1026.72" cy="270.17" r="6.25" fill="#000" stroke="none"/>
<circle cx="1096.98" cy="303.5" r="6.25" fill="#000" stroke="none"/>
<circle cx="1167.24" cy="376.83" r="6.25" fill="#000" stroke="none"/>
<circle cx="1237.5" cy="388.5" r="6.25" fill="#000" stroke="none"/>
<circle cx="1307.76" cy="403.5" r="6.25" fill="#000" stroke="none"/>
<circle cx="1378.02" cy="403.5" r="6.25" fill="#000" stroke="none"/>
<path d="M1404.5 84.9 L1447.3 84.9" fill="none" stroke="#000" stroke-width="1.7" stroke-linejoin="round"/>
<circle cx="1404.5" cy="84.9" r="6.25" fill="#000" stroke="none"/>
<circle cx="1447.3" cy="84.9" r="6.25" fill="#000" stroke="none"/>
<text x="1468.6" y="93.8" class="l">S3</text>
<path d="M1404.5 114.17 L1406.2 114.17M1413 114.17 L1414.7 114.17M1421.5 114.17 L1423.2 114.17M1430 114.17 L1431.7 114.17M1438.5 114.17 L1440.2 114.17M1447 114.17 L1447.3 114.17" fill="none" stroke="#000" stroke-width="1.7"/>
<circle cx="1404.5" cy="114.17" r="5.45" fill="#fff" stroke="#000" stroke-width="1.6" stroke-linejoin="miter"/>
<circle cx="1447.3" cy="114.17" r="5.45" fill="#fff" stroke="#000" stroke-width="1.6" stroke-linejoin="miter"/>
<text x="1468.6" y="123.07" class="l">S4</text>
<path d="M1404.5 143.44 L1425.7 143.44M1432.8 143.44 L1447.3 143.44" fill="none" stroke="#000" stroke-width="1.7"/>
<polygon points="1404.5,151.34 1411,139.49 1398,139.49" fill="#000" stroke="none"/>
<polygon points="1447.3,151.34 1453.8,139.49 1440.8,139.49" fill="#000" stroke="none"/>
<text x="1468.6" y="152.34" class="l">S5</text>
<path d="M1404.5 172.71 L1432.3 172.71M1439.7 172.71 L1441.4 172.71M1447.1 172.71 L1447.3 172.71" fill="none" stroke="#000" stroke-width="1.7"/>
<polygon points="1404.5,166.41 1409.68,175.86 1399.32,175.86" fill="#fff" stroke="#000" stroke-width="1.6" stroke-linejoin="miter"/>
<polygon points="1447.3,166.41 1452.48,175.86 1442.12,175.86" fill="#fff" stroke="#000" stroke-width="1.6" stroke-linejoin="miter"/>
<text x="1468.6" y="181.61" class="l">S7</text>
<path d="M1404.5 201.98 L1445.9 201.98" fill="none" stroke="#000" stroke-width="1.7"/>
<rect x="1398.9" y="196.38" width="11.2" height="11.2" fill="#000" stroke="none"/>
<rect x="1441.7" y="196.38" width="11.2" height="11.2" fill="#000" stroke="none"/>
<text x="1468.6" y="210.88" class="l">S9</text>
<path d="M1404.5 231.25 L1432 231.25M1439.1 231.25 L1440.8 231.25" fill="none" stroke="#000" stroke-width="1.7"/>
<rect x="1399.7" y="226.45" width="9.6" height="9.6" fill="#fff" stroke="#000" stroke-width="1.6" stroke-linejoin="miter"/>
<rect x="1442.5" y="226.45" width="9.6" height="9.6" fill="#fff" stroke="#000" stroke-width="1.6" stroke-linejoin="miter"/>
<text x="1468.6" y="240.15" class="l">S10</text>
<path d="M1404.5 260.52 L1436.5 260.52M1447.1 260.52 L1447.3 260.52" fill="none" stroke="#000" stroke-width="2.4"/>
<polygon points="1404.5,253.27 1411.75,260.52 1404.5,267.77 1397.25,260.52" fill="#000" stroke="none"/>
<polygon points="1447.3,253.27 1454.55,260.52 1447.3,267.77 1440.05,260.52" fill="#000" stroke="none"/>
<text x="1468.6" y="269.42" class="l">S11</text>
<path d="M1404.5 289.79 L1447.3 289.79" fill="none" stroke="#000" stroke-width="1.7" stroke-linejoin="round"/>
<polygon points="1404.5,283.67 1410.62,289.79 1404.5,295.91 1398.38,289.79" fill="#fff" stroke="#000" stroke-width="1.6" stroke-linejoin="miter"/>
<polygon points="1447.3,283.67 1453.42,289.79 1447.3,295.91 1441.18,289.79" fill="#fff" stroke="#000" stroke-width="1.6" stroke-linejoin="miter"/>
<text x="1468.6" y="298.69" class="l">S12</text>
<path d="M1404.5 319.06 L1406.2 319.06M1413 319.06 L1414.7 319.06M1421.5 319.06 L1423.2 319.06M1430 319.06 L1431.7 319.06M1438.5 319.06 L1440.2 319.06M1447 319.06 L1447.3 319.06" fill="none" stroke="#000" stroke-width="1.7"/>
<polygon points="1404.5,311.16 1411,323.01 1398,323.01" fill="#000" stroke="none"/>
<polygon points="1447.3,311.16 1453.8,323.01 1440.8,323.01" fill="#000" stroke="none"/>
<text x="1468.6" y="327.96" class="l">S13</text>
<path d="M1404.5 348.33 L1425.7 348.33M1432.8 348.33 L1447.3 348.33" fill="none" stroke="#000" stroke-width="1.7"/>
<polygon points="1404.5,354.63 1409.68,345.18 1399.32,345.18" fill="#fff" stroke="#000" stroke-width="1.6" stroke-linejoin="miter"/>
<polygon points="1447.3,354.63 1452.48,345.18 1442.12,345.18" fill="#fff" stroke="#000" stroke-width="1.6" stroke-linejoin="miter"/>
<text x="1468.6" y="357.23" class="l">S15</text>
<path d="M1404.5 377.6 L1432.3 377.6M1439.7 377.6 L1441.4 377.6M1447.1 377.6 L1447.3 377.6" fill="none" stroke="#000" stroke-width="1.7"/>
<polygon points="1404.5,370.7 1409.95,374.15 1409.95,381.05 1404.5,384.5 1399.05,381.05 1399.05,374.15" fill="#000" stroke="none"/>
<polygon points="1447.3,370.7 1452.75,374.15 1452.75,381.05 1447.3,384.5 1441.85,381.05 1441.85,374.15" fill="#000" stroke="none"/>
<text x="1468.6" y="386.5" class="l">S16</text>
<path d="M1404.5 406.87 L1445.9 406.87" fill="none" stroke="#000" stroke-width="1.7"/>
<polygon points="1404.5,400.98 1409.15,403.93 1409.15,409.81 1404.5,412.76 1399.85,409.81 1399.85,403.93" fill="#fff" stroke="#000" stroke-width="1.6" stroke-linejoin="miter"/>
<polygon points="1447.3,400.98 1451.95,403.93 1451.95,409.81 1447.3,412.76 1442.65,409.81 1442.65,403.93" fill="#fff" stroke="#000" stroke-width="1.6" stroke-linejoin="miter"/>
<text x="1468.6" y="415.77" class="l">S21</text>
<path d="M1404.5 436.14 L1432 436.14M1439.1 436.14 L1440.8 436.14" fill="none" stroke="#000" stroke-width="1.7"/>
<circle cx="1404.5" cy="436.14" r="6.25" fill="#000" stroke="none"/>
<circle cx="1447.3" cy="436.14" r="6.25" fill="#000" stroke="none"/>
<text x="1468.6" y="445.04" class="l">S22</text>
<line x1="1398.4" y1="465.41" x2="1453" y2="465.41" stroke="#a0a0a0" stroke-width="9.2" stroke-linecap="round"/>
<text x="1468.2" y="474.31" class="l">Mean</text>
</svg>
</body></html>
